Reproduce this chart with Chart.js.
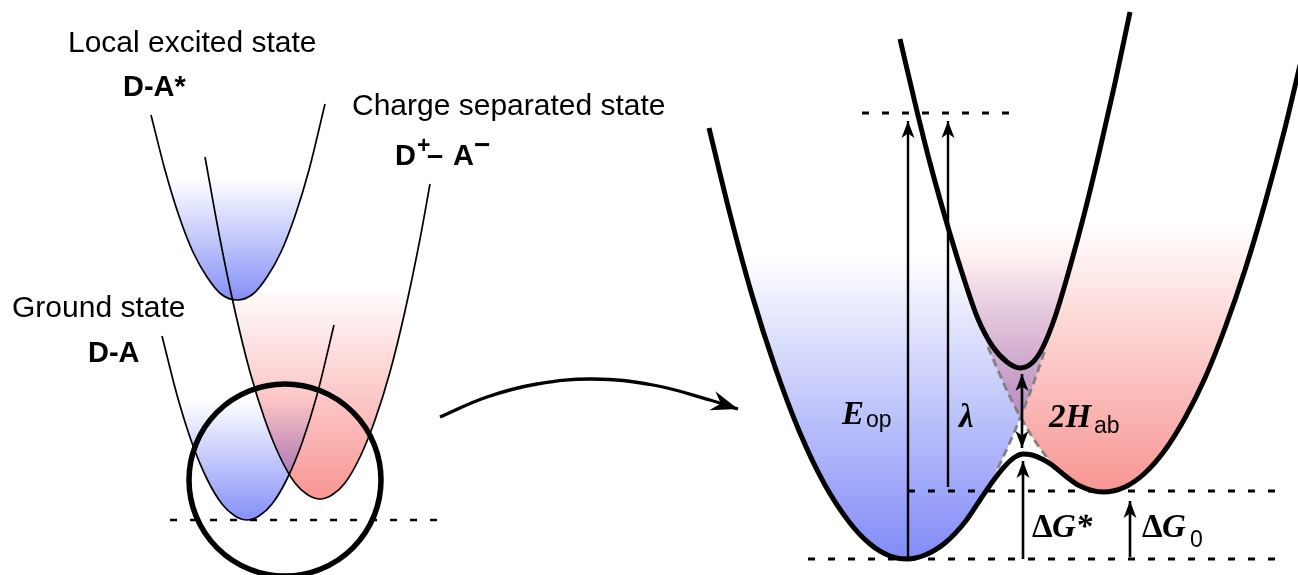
<!DOCTYPE html>
<html>
<head>
<meta charset="utf-8">
<script src="https://cdn.jsdelivr.net/npm/chart.js@4.4.1/dist/chart.umd.min.js"></script>
<style>
html,body{margin:0;padding:0;background:#fff;}
#wrap{position:relative;width:1298px;height:575px;}
</style>
</head>
<body>
<div id="wrap"><canvas id="c"></canvas></div>
<script>
// ===== DATA (x = reaction coordinate, y = energy level, drawn downward) =====
// Left panel: local excited state D-A*
const leX = [151,165,179,193,207,221,237,253,267,281,295,309,325];
const leY = [115,170,216,252,277,294,300,294,277,252,216,170,104];
// Left panel: charge separated state D+ - A-
const csX = [205,220,235,250,265,280,295,308,320,332,345,360,375,390,405,420,430];
const csY = [157,239,311,372,420,457,483,495,499,495,483,457,420,372,311,239,184];
// Left panel: ground state D-A
const gsX = [162,177,192,207,222,235,247,259,272,287,302,317,334];
const gsY = [336,395,443,479,504,516,520,516,504,479,443,395,325];
// Left panel: reference level and magnifier circle
const dashLeftX = [170,442], dashLeftY = [520,520];
const circX = [285], circY = [480];
// Curved arrow between panels
const cvX = [440,487,537,593,653,710,738];
const cvY = [417,397,384,379,385,400,409];

// Right panel: diabatic surfaces (fill)
const daX = [709,730,752,775,800,825,850,870,890,907,925,945,965,985,1000,1021,1040,1060,1080,1100,1115,1130];
const daY = [128,214,295,367,433,485,523,544,556,559,555,543,522,492,464,416,364,302,230,149,83,12];
const dbX = [900,915,930,950,970,990,1010,1021,1035,1050,1065,1080,1103,1125,1145,1165,1185,1205,1225,1245,1265,1285,1300];
const dbY = [39,103,163,234,297,352,397,418,441,461,476,486,492,487,473,450,418,378,328,270,203,128,65];
// Right panel: adiabatic surfaces
const upX = [900,915,930,950,965,978,993,1007,1020,1033,1043,1055,1070,1085,1100,1115,1130];
const upY = [39,103,163,234,282,319,347,362,368,362,347,317,267,211,149,83,12];
const loX = [709,730,752,775,800,825,850,870,890,907,925,945,965,980,993,1005,1015,1023,1032,1042,1052,1063,1080,1103,1125,1145,1165,1185,1205,1225,1245,1265,1285,1300];
const loY = [128,214,295,367,433,485,523,544,556,559,555,543,522,500,481,466,457,454,455,459,465,474,486,492,487,473,450,418,378,328,270,203,128,65];
// Right panel: diabatic continuation near crossing (dashed)
const xaX = [988,1000,1010,1021,1035,1048];
const xaY = [347,375,397,418,441,459];
const xbX = [998,1010,1021,1035,1045];
const xbY = [468,442,416,379,350];
// Right panel: energy levels
const dashTopX = [862,1015], dashTopY = [113,113];
const dashMidX = [908,1285], dashMidY = [491,491];
const dashBotX = [808,1285], dashBotY = [559,559];
// Right panel: arrows
const eopX = [908,908], eopY = [559,121];
const lamX = [948,948], lamY = [487,121];
const habX = [1022,1022], habY = [374,448];
const dgsX = [1023,1023], dgsY = [559,461];
const dg0X = [1130,1130], dg0Y = [557,501];

// Text labels
const stateLabels = ['Local excited state','Charge separated state','Ground state'];
const stateSymbols = ['D-A*','D-A'];

// ===== helpers =====
const pts = (xs, ys) => xs.map((x, i) => ({x, y: ys[i]}));
const SANS = '"Liberation Sans", Arial, sans-serif';
const SERIF = '"Liberation Serif", "Times New Roman", serif';

function vGrad(topV, botV, rgb, aMax) {
  return (c) => {
    const ch = c.chart, ys = ch.scales && ch.scales.y;
    if (!ch.chartArea || !ys) return 'rgba(0,0,0,0)';
    const g = ch.ctx.createLinearGradient(0, ys.getPixelForValue(topV), 0, ys.getPixelForValue(botV));
    g.addColorStop(0, `rgba(${rgb},0)`);
    g.addColorStop(1, `rgba(${rgb},${aMax})`);
    return g;
  };
}
const BLUE = '25,45,240', RED = '240,45,40';

function fillDs(xs, ys, grad) {
  return {data: pts(xs, ys), borderColor:'rgba(0,0,0,0)', borderWidth:0, pointRadius:0,
    backgroundColor: grad, fill:{value:0}, cubicInterpolationMode:'monotone', order:20};
}
function curve(xs, ys, w, order, extra) {
  return Object.assign({data: pts(xs, ys), borderColor:'#000', borderWidth:w, pointRadius:0,
    fill:false, cubicInterpolationMode:'monotone', order}, extra || {});
}
function straight(xs, ys, w, order, extra) {
  return Object.assign({data: pts(xs, ys), borderColor:'#000', borderWidth:w, pointRadius:0,
    fill:false, tension:0, order}, extra || {});
}
const HEAD = {len:17, half:6.5, notch:4.5};

const datasets = [
  // fills
  fillDs(leX, leY, vGrad(178, 300, BLUE, 0.53)),
  fillDs(gsX, gsY, vGrad(400, 520, BLUE, 0.53)),
  fillDs(csX, csY, vGrad(285, 499, RED, 0.5)),
  fillDs(daX, daY, vGrad(255, 559, BLUE, 0.55)),
  fillDs(dbX, dbY, vGrad(220, 492, RED, 0.5)),
  // left thin curves
  curve(leX, leY, 1.7, 6),
  curve(csX, csY, 1.7, 6),
  curve(gsX, gsY, 1.7, 6),
  straight(dashLeftX, dashLeftY, 2.6, 7, {borderDash:[7,13]}),
  // magnifier circle
  {data: pts(circX, circY), showLine:false, pointRadius:96, pointHoverRadius:96,
   pointBorderWidth:5.5, pointBorderColor:'#000', pointBackgroundColor:'rgba(0,0,0,0)', order:2},
  // curved arrow
  {data: pts(cvX, cvY), borderColor:'#000', borderWidth:3.3, pointRadius:0, fill:false,
   tension:0.4, order:3, arrow:{end:true, len:27, half:10, notch:9}},
  // right: gray dashed diabatic continuation
  curve(xaX, xaY, 2.8, 8, {borderColor:'rgba(125,125,125,0.95)', borderDash:[8,5]}),
  curve(xbX, xbY, 2.8, 8, {borderColor:'rgba(125,125,125,0.95)', borderDash:[8,5]}),
  // right: energy level dashes
  straight(dashTopX, dashTopY, 2.8, 7, {borderDash:[7,13]}),
  straight(dashMidX, dashMidY, 2.8, 7, {borderDash:[7,13]}),
  straight(dashBotX, dashBotY, 2.8, 7, {borderDash:[7,13]}),
  // right: adiabatic thick curves
  curve(upX, upY, 5, 4),
  curve(loX, loY, 5, 4),
  // right: arrows
  straight(eopX, eopY, 2.4, 3, {arrow:Object.assign({end:true}, HEAD)}),
  straight(lamX, lamY, 2.4, 3, {arrow:Object.assign({end:true}, HEAD)}),
  straight(habX, habY, 2.6, 3, {arrow:Object.assign({start:true, end:true}, HEAD)}),
  straight(dgsX, dgsY, 2.6, 3, {arrow:Object.assign({end:true}, HEAD)}),
  straight(dg0X, dg0Y, 2.6, 3, {arrow:Object.assign({end:true}, HEAD)}),
];

const arrowPlugin = {
  id: 'arrowHeads',
  afterDatasetsDraw(chart) {
    const ctx = chart.ctx;
    chart.data.datasets.forEach((ds, i) => {
      if (!ds.arrow) return;
      const p = chart.getDatasetMeta(i).data, n = p.length;
      const {len, half, notch} = ds.arrow;
      const draw = (tip, from) => {
        const a = Math.atan2(tip.y - from.y, tip.x - from.x);
        ctx.save();
        ctx.translate(tip.x, tip.y);
        ctx.rotate(a);
        ctx.beginPath();
        ctx.moveTo(0, 0);
        ctx.lineTo(-len, -half);
        ctx.lineTo(-len + notch, 0);
        ctx.lineTo(-len, half);
        ctx.closePath();
        ctx.fillStyle = '#000';
        ctx.fill();
        ctx.restore();
      };
      if (ds.arrow.end) draw(p[n-1], p[n-2]);
      if (ds.arrow.start) draw(p[0], p[1]);
    });
  }
};

const SBI = `italic bold 33px ${SERIF}`, SB = `bold 33px ${SERIF}`, SUB = `23px ${SANS}`;
const labelRuns = [
  {x:68,  y:52,  t:stateLabels[0], f:`30px ${SANS}`},
  {x:123, y:96,  t:stateSymbols[0], f:`bold 29px ${SANS}`},
  {x:352, y:115, t:stateLabels[1], f:`30px ${SANS}`},
  {x:395, y:165, t:'D', f:`bold 29px ${SANS}`},
  {x:417, y:153, t:'+', f:`bold 23px ${SANS}`},
  {x:427, y:165, t:'–', f:`bold 29px ${SANS}`},
  {x:453, y:165, t:'A', f:`bold 29px ${SANS}`},
  {x:474, y:154, t:'−', f:`bold 28px ${SANS}`},
  {x:12,  y:317, t:stateLabels[2], f:`30px ${SANS}`},
  {x:88,  y:362, t:stateSymbols[1], f:`bold 29px ${SANS}`},
  {x:842, y:424, t:'E', f:SBI},
  {x:866, y:427, t:'op', f:SUB},
  {x:959, y:427, t:'λ', f:SBI},
  {x:1049,y:427, t:'2H', f:SBI},
  {x:1094,y:433, t:'ab', f:SUB},
  {x:1032,y:537, t:'Δ', f:SB},
  {x:1052,y:537, t:'G*', f:SBI},
  {x:1142,y:537, t:'Δ', f:SB},
  {x:1162,y:537, t:'G', f:SBI},
  {x:1190,y:547, t:'0', f:SUB},
];

const textPlugin = {
  id: 'diagramText',
  afterDatasetsDraw(chart) {
    const ctx = chart.ctx, sx = chart.scales.x, sy = chart.scales.y;
    ctx.save();
    ctx.fillStyle = '#000';
    ctx.textAlign = 'left';
    ctx.textBaseline = 'alphabetic';
    labelRuns.forEach(r => {
      ctx.font = r.f;
      ctx.fillText(r.t, sx.getPixelForValue(r.x), sy.getPixelForValue(r.y));
    });
    ctx.restore();
  }
};

new Chart(document.getElementById('c'), {
  type: 'line',
  data: {datasets},
  options: {
    responsive: true,
    maintainAspectRatio: false,
    devicePixelRatio: 1,
    animation: false,
    events: [],
    layout: {padding: 0, autoPadding: false},
    plugins: {legend: {display:false}, tooltip: {enabled:false}},
    scales: {
      x: {type:'linear', min:0, max:1298, display:false},
      y: {type:'linear', min:0, max:575, reverse:true, display:false}
    }
  },
  plugins: [arrowPlugin, textPlugin]
});
</script>
</body>
</html>
